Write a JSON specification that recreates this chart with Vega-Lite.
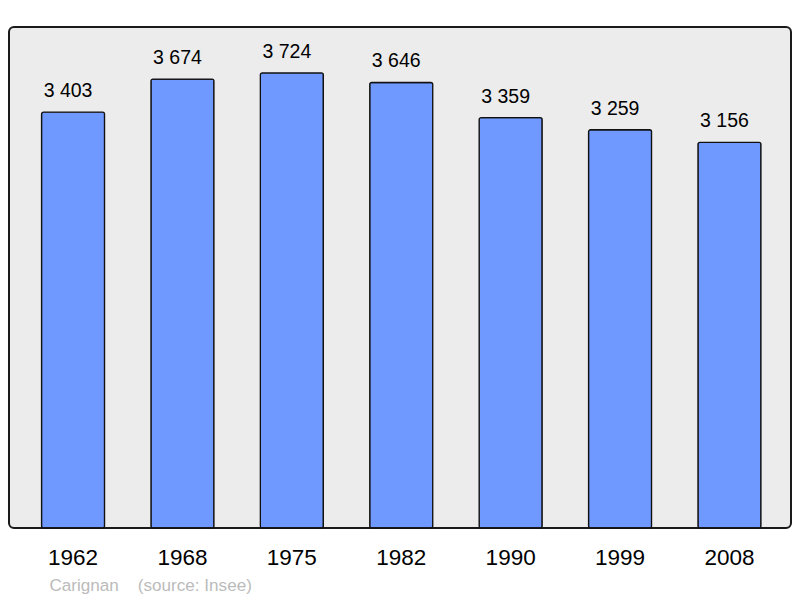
{
  "$schema": "https://vega.github.io/schema/vega-lite/v6.json",
  "width": 782,
  "height": 501,
  "autosize": {"type": "none"},
  "padding": {"left": 9, "top": 27, "right": 9, "bottom": 70},
  "background": "white",
  "config": {
    "font": "Liberation Sans",
    "view": {"fill": "#ececec", "stroke": "#1a1a1a", "strokeWidth": 2, "cornerRadius": 5}
  },
  "data": {
    "values": [
      {"year": "1962", "pop": 3403, "label": "3 403"},
      {"year": "1968", "pop": 3674, "label": "3 674"},
      {"year": "1975", "pop": 3724, "label": "3 724"},
      {"year": "1982", "pop": 3646, "label": "3 646"},
      {"year": "1990", "pop": 3359, "label": "3 359"},
      {"year": "1999", "pop": 3259, "label": "3 259"},
      {"year": "2008", "pop": 3156, "label": "3 156"}
    ]
  },
  "encoding": {
    "x": {
      "field": "year",
      "type": "ordinal",
      "scale": {"paddingInner": 0.424, "paddingOuter": 0.286, "align": 0.52},
      "axis": {
        "title": "Carignan\u00a0\u00a0\u00a0\u00a0(source: Insee)",
        "titleFont": "Liberation Sans",
        "titleFontSize": 17.1,
        "titleFontWeight": "normal",
        "titleColor": "#bbbbbb",
        "titleAnchor": "start",
        "titleAlign": "left",
        "titleBaseline": "alphabetic",
        "titleX": 40,
        "titleY": 62.5,
        "labelAngle": 0,
        "labelFontSize": 22.5,
        "labelColor": "#000000",
        "labelBaseline": "alphabetic",
        "labelPadding": 36.5,
        "ticks": false,
        "tickSize": 0,
        "domain": false,
        "grid": false
      }
    },
    "y": {
      "field": "pop",
      "type": "quantitative",
      "scale": {"domain": [0, 4100], "nice": false},
      "axis": null
    }
  },
  "layer": [
    {
      "mark": {"type": "bar", "fill": "#7099ff", "stroke": "#111111", "strokeWidth": 1.3, "cornerRadius": 2}
    },
    {
      "mark": {"type": "text", "baseline": "alphabetic", "dy": -15, "dx": -5, "fontSize": 19.5, "color": "#000000"},
      "encoding": {"text": {"field": "label"}}
    }
  ]
}
